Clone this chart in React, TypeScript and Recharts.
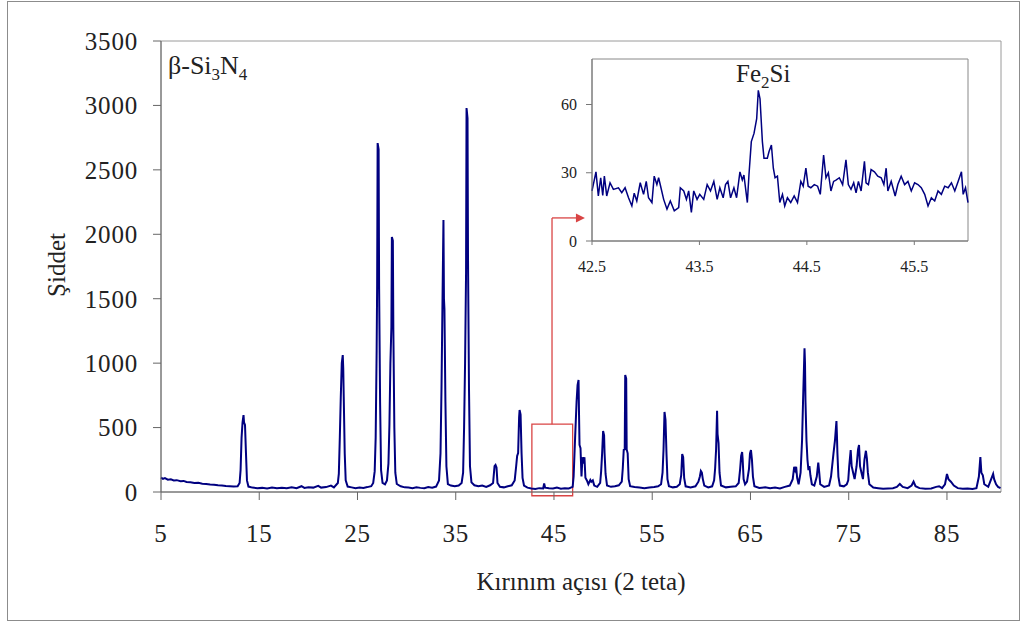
import React from 'react';
import { LineChart, Line, XAxis, YAxis, ReferenceArea, ReferenceLine, ReferenceDot } from 'recharts';

type Pt = [number, number];

// ---- main XRD scan: [2-theta, intensity] ----
const scan05to20: Pt[] = [
  [5.0, 112], [5.2, 102], [5.4, 108], [5.7, 96], [6.0, 98], [6.3, 90], [6.6, 92], [7.0, 84], [7.3, 86], [7.6, 78],
  [8.0, 76], [8.4, 70], [8.8, 72], [9.2, 64], [9.6, 62], [10.0, 58], [10.4, 56], [10.8, 52], [11.2, 50], [11.6, 46],
  [12.0, 44], [12.4, 42], [12.8, 44], [13.0, 70], [13.1, 170], [13.2, 420], [13.3, 540], [13.4, 597], [13.45, 540],
  [13.55, 520], [13.65, 300], [13.75, 90], [13.9, 42], [14.3, 34], [14.8, 30], [15.3, 32], [15.8, 28], [16.3, 34],
  [16.8, 30], [17.3, 33], [17.8, 30], [18.3, 36], [18.8, 30], [19.3, 45], [19.6, 32],
];
const scan20to30: Pt[] = [
  [20.0, 36], [20.5, 34], [21.0, 48], [21.3, 34], [21.8, 38], [22.3, 50], [22.6, 36], [23.0, 70], [23.1, 140],
  [23.2, 420], [23.3, 740], [23.4, 1000], [23.5, 1063], [23.55, 960], [23.6, 740], [23.7, 300], [23.8, 90], [24.0, 42],
  [24.4, 36], [24.8, 30], [25.2, 34], [25.6, 32], [26.0, 38], [26.4, 45], [26.6, 70], [26.75, 160], [26.85, 420],
  [26.95, 1100], [27.0, 1600], [27.05, 2708], [27.15, 2660], [27.2, 1600], [27.3, 700], [27.4, 170], [27.55, 70],
  [27.8, 60], [28.0, 90], [28.15, 220], [28.25, 520], [28.35, 1000], [28.45, 1280], [28.5, 1979], [28.6, 1950],
  [28.65, 1260], [28.75, 500], [28.85, 150], [29.0, 62], [29.4, 44], [29.8, 36],
];
const scan30to42: Pt[] = [
  [30.2, 34], [30.6, 30], [31.0, 36], [31.4, 32], [31.8, 30], [32.2, 38], [32.6, 34], [33.0, 42], [33.3, 90],
  [33.45, 300], [33.55, 800], [33.65, 1470], [33.75, 2110], [33.8, 1500], [33.85, 1420], [33.95, 700], [34.05, 200],
  [34.2, 62], [34.5, 50], [34.9, 44], [35.3, 50], [35.6, 70], [35.75, 150], [35.85, 500], [35.95, 1000], [36.05, 1700],
  [36.1, 2980], [36.2, 2900], [36.25, 1800], [36.35, 800], [36.45, 200], [36.6, 75], [36.9, 52], [37.3, 44],
  [37.7, 50], [38.1, 40], [38.5, 52], [38.8, 70], [38.95, 200], [39.05, 210], [39.15, 190], [39.25, 70], [39.5, 40],
  [39.9, 36], [40.3, 44], [40.7, 52], [41.0, 90], [41.15, 200], [41.25, 280], [41.35, 303], [41.45, 580], [41.5, 636],
  [41.6, 600], [41.7, 300], [41.8, 110], [41.95, 50],
];
const scan42to56: Pt[] = [
  [42.3, 34], [42.7, 28], [43.1, 24], [43.5, 30], [43.9, 28], [44.0, 66], [44.1, 34], [44.5, 30], [44.9, 28],
  [45.3, 34], [45.7, 26], [46.1, 30], [46.5, 28], [46.9, 40], [47.0, 120], [47.15, 420], [47.3, 700], [47.4, 830],
  [47.5, 869], [47.55, 600], [47.6, 365], [47.7, 340], [47.8, 120], [47.9, 270], [48.0, 220], [48.1, 270], [48.2, 110],
  [48.35, 90], [48.5, 60], [48.7, 93], [48.8, 80], [48.95, 90], [49.1, 50], [49.4, 40], [49.7, 70], [49.8, 160],
  [49.9, 300], [50.0, 473], [50.1, 440], [50.15, 300], [50.25, 140], [50.4, 50], [50.8, 40], [51.2, 44], [51.6, 52],
  [51.9, 80], [52.0, 180], [52.1, 326], [52.2, 330], [52.25, 908], [52.35, 880], [52.4, 330], [52.5, 300], [52.6, 100],
  [52.75, 45], [53.2, 38], [53.7, 34], [54.2, 30], [54.7, 34], [55.2, 38], [55.6, 44], [55.9, 60],
];
const scan56to70: Pt[] = [
  [56.05, 150], [56.15, 330], [56.25, 621], [56.35, 560], [56.45, 300], [56.55, 100], [56.7, 45], [57.1, 36],
  [57.5, 40], [57.8, 60], [57.95, 130], [58.05, 295], [58.15, 270], [58.25, 110], [58.4, 44], [58.9, 36], [59.4, 44],
  [59.7, 80], [59.85, 120], [59.95, 163], [60.05, 150], [60.15, 100], [60.3, 50], [60.7, 36], [61.1, 44], [61.3, 90],
  [61.4, 180], [61.5, 330], [61.6, 631], [61.65, 450], [61.75, 380], [61.85, 150], [62.0, 50], [62.5, 36], [63.0, 40],
  [63.5, 44], [63.8, 70], [63.95, 180], [64.05, 280], [64.15, 310], [64.2, 260], [64.3, 100], [64.45, 60], [64.65, 80],
  [64.85, 180], [64.95, 300], [65.05, 326], [65.15, 250], [65.25, 120], [65.4, 45], [65.9, 32], [66.5, 36], [67.0, 30],
  [67.5, 34], [68.0, 28], [68.5, 40], [69.0, 50], [69.3, 100], [69.45, 196], [69.55, 170], [69.65, 196], [69.75, 110],
  [69.9, 60],
];
const scan70to91: Pt[] = [
  [70.1, 150], [70.25, 400], [70.35, 700], [70.5, 1115], [70.55, 1000], [70.6, 700], [70.7, 400], [70.8, 250],
  [70.9, 170], [71.0, 200], [71.1, 130], [71.25, 60], [71.5, 50], [71.75, 120], [71.9, 228], [72.0, 150], [72.1, 60],
  [72.5, 40], [73.0, 50], [73.2, 120], [73.45, 300], [73.6, 400], [73.75, 551], [73.8, 440], [73.85, 300],
  [73.95, 120], [74.1, 50], [74.5, 44], [74.8, 60], [74.95, 90], [75.05, 200], [75.2, 326], [75.3, 200], [75.45, 150],
  [75.6, 100], [75.8, 200], [75.95, 330], [76.05, 365], [76.15, 200], [76.3, 150], [76.45, 100], [76.6, 250],
  [76.75, 320], [76.85, 260], [76.95, 150], [77.1, 60], [77.5, 34], [78.0, 30], [78.5, 26], [79.0, 28], [79.5, 30],
  [79.9, 40], [80.2, 62], [80.5, 40], [81.0, 30], [81.4, 50], [81.6, 80], [81.8, 45], [82.2, 30], [82.8, 26],
  [83.4, 28], [83.9, 40], [84.2, 45], [84.5, 30], [84.8, 60], [85.0, 140], [85.15, 100], [85.4, 80], [85.7, 50],
  [86.1, 30], [86.6, 26], [87.1, 28], [87.6, 24], [88.0, 30], [88.25, 120], [88.4, 272], [88.5, 150], [88.65, 130],
  [88.8, 60], [89.2, 40], [89.5, 100], [89.7, 140], [89.8, 100], [90.0, 60], [90.2, 40], [90.45, 30],
];

// ---- inset (Fe2Si region) scan ----
const insetPoints: Pt[] = [
  [42.5, 22], [42.537, 30.4], [42.559, 19.8], [42.581, 27.8], [42.6, 20], [42.615, 28.5], [42.637, 19.8],
  [42.668, 25.6], [42.699, 22.7], [42.746, 23.4], [42.777, 21.2], [42.808, 23.4], [42.84, 19], [42.871, 15.4],
  [42.893, 21], [42.917, 17.6], [42.949, 25.6], [42.98, 20.5], [43.005, 26.2], [43.026, 19], [43.058, 16.9],
  [43.079, 28.5], [43.104, 24.8], [43.12, 27.8], [43.142, 23.4], [43.167, 18.3], [43.198, 14], [43.229, 17.6],
  [43.266, 13.3], [43.307, 14.7], [43.322, 23.4], [43.354, 22], [43.379, 18.3], [43.4, 22], [43.425, 12.6],
  [43.447, 22], [43.478, 18.3], [43.503, 20.5], [43.54, 18.3], [43.572, 24.8], [43.603, 22], [43.634, 26.2],
  [43.665, 18.3], [43.69, 23.4], [43.721, 19], [43.743, 24.8], [43.765, 26.2], [43.79, 19], [43.821, 23.4],
  [43.846, 19], [43.877, 30.4], [43.899, 26.8], [43.914, 29], [43.946, 16.9], [43.961, 29], [43.983, 43.7],
  [44.008, 47.3], [44.033, 53.8], [44.048, 66.2], [44.064, 62.5], [44.086, 43.7], [44.101, 36.4], [44.132, 36.4],
  [44.148, 39.3], [44.17, 42.2], [44.188, 32], [44.204, 27.8], [44.226, 28.5], [44.248, 16.9], [44.273, 20.5],
  [44.294, 15.4], [44.319, 19], [44.35, 16.9], [44.382, 19.8], [44.413, 16.9], [44.444, 26.2], [44.466, 24.1],
  [44.491, 32], [44.512, 24.1], [44.537, 23.4], [44.569, 24.8], [44.6, 24.1], [44.625, 20.5], [44.656, 37.8],
  [44.678, 27.8], [44.7, 30], [44.724, 22], [44.749, 26.2], [44.771, 26.8], [44.802, 27.8], [44.833, 24.8],
  [44.864, 35.7], [44.886, 24.8], [44.911, 22.7], [44.936, 25.6], [44.958, 21.2], [44.98, 26.2], [45.005, 22],
  [45.036, 35], [45.051, 25.6], [45.073, 24.8], [45.098, 31.4], [45.129, 30.4], [45.16, 28.5], [45.192, 27.8],
  [45.217, 24.8], [45.238, 32], [45.254, 22], [45.285, 26.2], [45.322, 19.8], [45.347, 24.8], [45.378, 28.5],
  [45.41, 24.8], [45.441, 26.2], [45.472, 22], [45.503, 25.6], [45.534, 24.8], [45.565, 23.4], [45.597, 20.5],
  [45.628, 15.4], [45.659, 19], [45.69, 17.6], [45.721, 22], [45.752, 20.5], [45.783, 24.1], [45.815, 23.4],
  [45.846, 25.6], [45.877, 22], [45.908, 26.2], [45.939, 30.4], [45.955, 20.5], [45.977, 23.4], [46.0, 16.9],
];

const mainXTicks = [5, 15, 25, 35, 45, 55, 65, 75, 85];
const mainYTicks = [0, 500, 1000, 1500, 2000, 2500, 3000, 3500];
const insetXTicks = [42.5, 43.5, 44.5, 45.5];
const insetYTicks = [0, 30, 60];

const X_TITLE = 'Kırınım açısı (2 teta)';
const Y_TITLE = 'Şiddet';

// zoom box and arrow (data coordinates)
const zoomBox = { x1: 42.75, x2: 46.9, y1: -29, y2: 526 };
const arrow = { x: 44.8, yTop: 2127, tipX: 48.15 };

const mainScan = [...scan05to20, ...scan20to30, ...scan30to42, ...scan42to56, ...scan56to70, ...scan70to91].map(
  ([t, i]) => ({ t, i })
);
const insetScan = insetPoints.map(([t, i]) => ({ t, i }));

const SERIF = '"Liberation Serif", "Times New Roman", serif';
const RED = '#d94444';
const NAVY = '#000080';

const ArrowHead = (p: any) => (
  <polygon
    points={`${p.cx},${p.cy} ${p.cx - 9},${p.cy - 4.5} ${p.cx - 9},${p.cy + 4.5}`}
    fill={RED}
  />
);

export default function App() {
  const tickStyle = { fill: '#222', fontSize: 25, fontFamily: SERIF, letterSpacing: 0.8 };
  const insetTick = { fill: '#222', fontSize: 16, fontFamily: SERIF };
  return (
    <div
      style={{ position: 'absolute', left: 0, top: 0, width: 1028, height: 627, background: '#fff', fontFamily: SERIF }}
    >
      <div
        style={{
          position: 'absolute',
          left: 7,
          top: 1,
          width: 1013,
          height: 620,
          border: '1px solid #8c8c8c',
          boxSizing: 'border-box',
        }}
      >
        <LineChart width={1011} height={618} data={mainScan} margin={{ top: 39, right: 18, bottom: 0, left: 0 }}>
          <XAxis
            dataKey="t"
            type="number"
            domain={[5, 90.5]}
            ticks={mainXTicks}
            tickSize={8}
            tickMargin={24}
            height={128}
            axisLine={{ stroke: '#666' }}
            tickLine={{ stroke: '#666' }}
            tick={tickStyle}
            label={{ value: X_TITLE, position: 'insideBottom', offset: 30, fontSize: 25, fill: '#222', fontFamily: SERIF }}
          />
          <YAxis
            type="number"
            domain={[0, 3500]}
            ticks={mainYTicks}
            width={153}
            tickSize={8}
            tickMargin={15}
            axisLine={{ stroke: '#666' }}
            tickLine={{ stroke: '#666' }}
            tick={tickStyle}
          />
          <ReferenceArea x1={5} x2={90.5} y1={0} y2={3500} fill="none" stroke="#9a9a9a" />
          <Line dataKey="i" type="linear" stroke={NAVY} strokeWidth={2} dot={false} isAnimationActive={false} />
          <ReferenceArea
            x1={zoomBox.x1}
            x2={zoomBox.x2}
            y1={zoomBox.y1}
            y2={zoomBox.y2}
            ifOverflow="visible"
            fill="none"
            stroke={RED}
            strokeWidth={1.3}
          />
          <ReferenceLine
            segment={[
              { x: arrow.x, y: zoomBox.y2 },
              { x: arrow.x, y: arrow.yTop },
            ]}
            stroke={RED}
            strokeWidth={1.3}
            ifOverflow="visible"
          />
          <ReferenceLine
            segment={[
              { x: arrow.x, y: arrow.yTop },
              { x: arrow.tipX - 0.8, y: arrow.yTop },
            ]}
            stroke={RED}
            strokeWidth={1.3}
            ifOverflow="visible"
          />
          <ReferenceDot x={arrow.tipX} y={arrow.yTop} r={0} ifOverflow="visible" shape={ArrowHead} />
        </LineChart>
      </div>

      <div style={{ position: 'absolute', left: 520, top: 50, width: 460, height: 235 }}>
        <LineChart width={460} height={235} data={insetScan} margin={{ top: 9, right: 12, bottom: 0, left: 0 }}>
          <XAxis
            dataKey="t"
            type="number"
            domain={[42.5, 46]}
            ticks={insetXTicks}
            tickSize={4}
            tickMargin={16}
            height={44}
            axisLine={{ stroke: '#777' }}
            tickLine={{ stroke: '#777' }}
            tick={insetTick}
          />
          <YAxis
            type="number"
            domain={[0, 80]}
            ticks={insetYTicks}
            width={72}
            tickSize={6}
            tickMargin={9}
            axisLine={{ stroke: '#777' }}
            tickLine={{ stroke: '#777' }}
            tick={insetTick}
          />
          <ReferenceArea x1={42.5} x2={46} y1={0} y2={80} fill="#fff" fillOpacity={1} stroke="#888" />
          <Line dataKey="i" type="linear" stroke={NAVY} strokeWidth={1.5} dot={false} isAnimationActive={false} />
        </LineChart>
      </div>

      <svg
        width={1028}
        height={627}
        style={{ position: 'absolute', left: 0, top: 0, pointerEvents: 'none' }}
        fontFamily={SERIF}
      >
        <text x={168} y={74} fontSize={26} fill="#222">
          β-Si<tspan fontSize={17} dy={6}>3</tspan>
          <tspan dy={-6}>N</tspan>
          <tspan fontSize={17} dy={6}>4</tspan>
        </text>
        <text x={736} y={82} fontSize={25} fill="#222">
          Fe<tspan fontSize={17} dy={6}>2</tspan>
          <tspan dy={-6}>Si</tspan>
        </text>
        <text
          transform="translate(56,265) rotate(-90)"
          textAnchor="middle"
          dominantBaseline="central"
          fontSize={25}
          fill="#222"
        >
          {Y_TITLE}
        </text>
      </svg>
    </div>
  );
}
